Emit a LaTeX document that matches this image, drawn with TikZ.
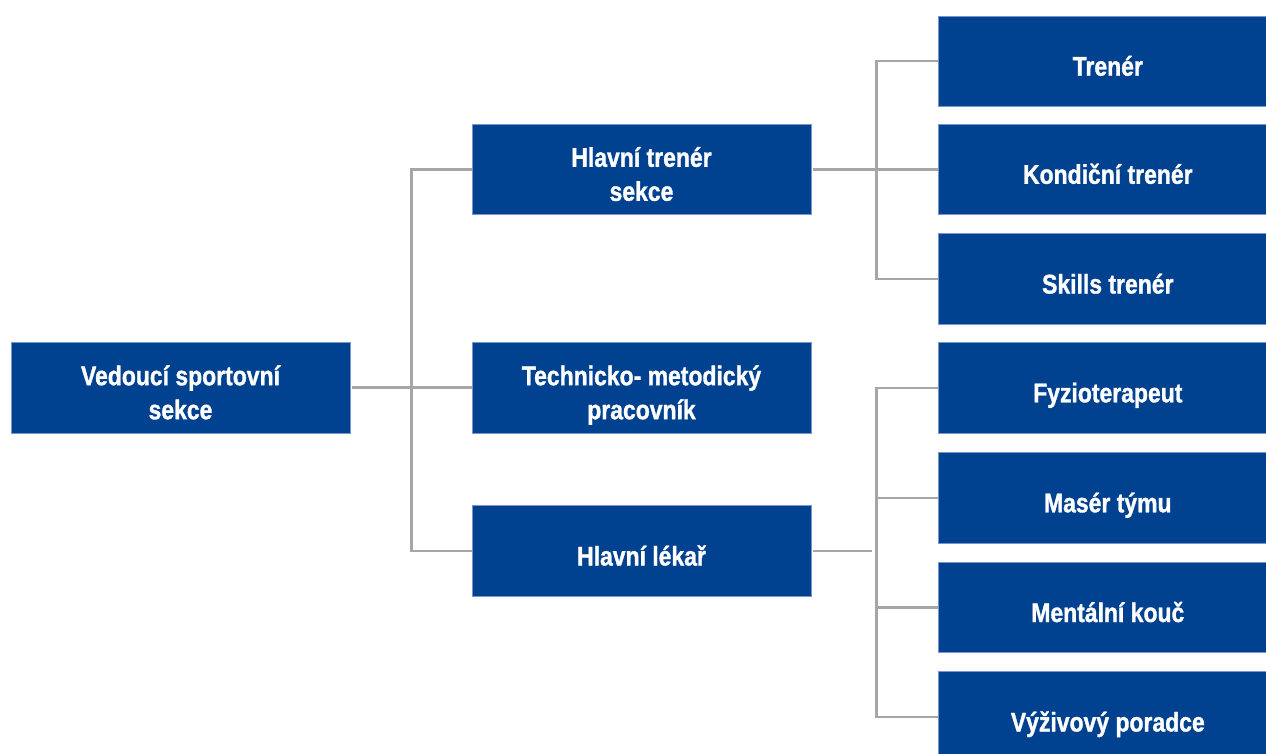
\documentclass[tikz,border=0pt]{standalone}
\usepackage{fontspec}
\setmainfont[FakeStretch=0.85, BoldFeatures={FakeBold=1.2}]{Liberation Sans}
\definecolor{boxblue}{RGB}{0,65,144}
\definecolor{boxedge}{RGB}{120,150,205}
\definecolor{conngray}{RGB}{166,166,166}
\begin{document}
\begin{tikzpicture}[x=1pt,y=-1pt,
  box/.style={rectangle, fill=boxblue, draw=boxedge, line width=0.8pt,
    minimum width=339pt, minimum height=90.5pt, inner sep=0pt,
    text=white, font=\bfseries\fontsize{27}{34}\selectfont, align=center},
  one/.style={text height=29pt, text depth=0pt},
  two/.style={text height=63pt, text depth=0pt},
  conn/.style={draw=conngray, line width=2.6pt}]
\useasboundingbox (0,0) rectangle (1266,754);
\clip (0,0) rectangle (1266,754);
% boxes
\node[box,two] (root) at (180.5,387.7) {Vedoucí sportovní\\sekce};
\node[box,two] (hts) at (641.5,169.3) {Hlavní trenér\\sekce};
\node[box,two] (tmp) at (641.5,387.7) {Technicko- metodický\\pracovník};
\node[box,one] (hl) at (641.5,551) {Hlavní lékař};
\node[box,one] (r1) at (1107.8,61.2) {Trenér};
\node[box,one] (r2) at (1107.8,169.3) {Kondiční trenér};
\node[box,one] (r3) at (1107.8,279) {Skills trenér};
\node[box,one] (r4) at (1107.8,387.8) {Fyzioterapeut};
\node[box,one] (r5) at (1107.8,497.8) {Masér týmu};
\node[box,one] (r6) at (1107.8,607.5) {Mentální kouč};
\node[box,one] (r7) at (1107.8,717) {Výživový poradce};
% junctions
\coordinate (j1) at (411.7,387.7);
\coordinate (j2) at (876.7,169.3);
\coordinate (j3) at (876.7,551);
\coordinate (e3) at (871.7,551);
% connectors
\draw[conn] ([xshift=1.5pt]root.east) -- (j1);
\draw[conn] (hts.west) -| (j1) |- (hl.west);
\draw[conn] (j1) -- (tmp.west);
\draw[conn] ([xshift=1.5pt]hts.east) -- (j2);
\draw[conn] (r1.west) -| (j2) |- (r3.west);
\draw[conn] (j2) -- (r2.west);
\draw[conn] ([xshift=1.5pt]hl.east) -- (e3);
\draw[conn] (r4.west) -| (j3) |- (r7.west);
\draw[conn] (r5.west) -- (r5.west -| j3);
\draw[conn] (r6.west) -- (r6.west -| j3);
\end{tikzpicture}
\end{document}
